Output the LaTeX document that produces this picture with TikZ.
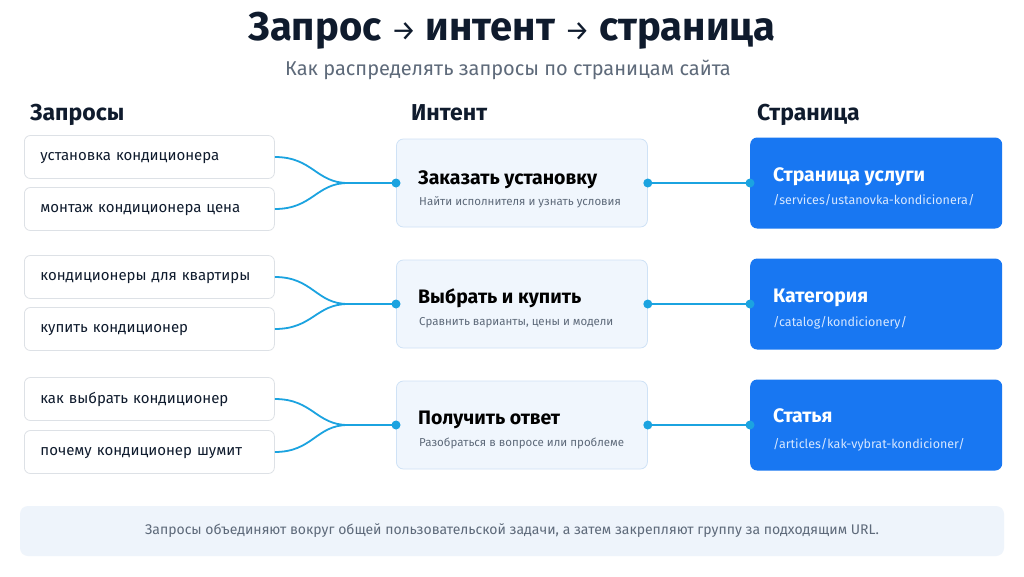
\documentclass[tikz,border=0pt]{standalone}
\usepackage{fontspec}
\setmainfont{Fira Sans}
\usetikzlibrary{positioning}

\definecolor{ink}{HTML}{0F1B2D}
\definecolor{muted}{HTML}{5E6A7A}
\definecolor{qborder}{HTML}{DDE1E6}
\definecolor{ifill}{HTML}{F0F6FD}
\definecolor{iborder}{HTML}{CFE2F6}
\definecolor{pblue}{HTML}{1877F2}
\definecolor{link}{HTML}{1BA3E0}
\definecolor{urltext}{HTML}{D6E7FF}
\definecolor{notefill}{HTML}{EEF4FB}

\begin{document}
\begin{tikzpicture}[x=1pt,y=-1pt,
  query/.style={draw=qborder,fill=white,rounded corners=6pt,line width=0.8pt,
    minimum height=43pt,text width=218pt,inner xsep=16pt,anchor=west,
    align=left,text=ink,font=\fontsize{15}{18}\selectfont,text depth=2pt},
  intent/.style={draw=iborder,fill=ifill,rounded corners=7pt,line width=0.8pt,
    minimum width=251pt,minimum height=88pt,anchor=west},
  page/.style={fill=pblue,rounded corners=7pt,
    minimum width=252pt,minimum height=91pt,anchor=west},
  btitle/.style={anchor=base west,inner sep=0pt,font=\fontsize{19.5}{22}\selectfont\bfseries},
  bsub/.style={anchor=base west,inner sep=0pt,font=\fontsize{11.5}{14}\selectfont,text=muted},
  burl/.style={anchor=base west,inner sep=0pt,font=\fontsize{12.5}{15}\selectfont,text=urltext},
  head/.style={anchor=base west,inner sep=0pt,text=ink,font=\fontsize{23}{26}\selectfont\bfseries},
  wire/.style={draw=link,line width=1.8pt},
  dot/.style={circle,fill=link,inner sep=0pt,minimum size=9pt}]

  \fill[white] (0,0) rectangle (1024,576);
  \useasboundingbox (0,0) rectangle (1024,576);

  % title
  \node[text=ink,font=\fontsize{40}{46}\selectfont\bfseries] (title) at (512,31)
    {Запрос {\mdseries\fontsize{28}{30}\selectfont →} интент {\mdseries\fontsize{28}{30}\selectfont →} страница};
  \node[text=muted,font=\fontsize{20}{24}\selectfont] (subtitle) at (508,70)
    {Как распределять запросы по страницам сайта};

  % column heads
  \node[head] (hq) at (30,120) {Запросы};
  \node[head] (hi) at (411,120) {Интент};
  \node[head] (hp) at (757,120) {Страница};

  % queries
  \node[query] (q1) at (24,157) {установка кондиционера};
  \node[query] (q2) at (24,209) {монтаж кондиционера цена};
  \node[query] (q3) at (24,277) {кондиционеры для квартиры};
  \node[query] (q4) at (24,329) {купить кондиционер};
  \node[query] (q5) at (24,399) {как выбрать кондиционер};
  \node[query] (q6) at (24,452) {почему кондиционер шумит};

  % intents
  \node[intent] (i1) at (396,183) {};
  \node[btitle] (i1t) at (418,184) {Заказать установку};
  \node[bsub] (i1s) at (419,205) {Найти исполнителя и узнать условия};
  \node[intent] (i2) at (396,304) {};
  \node[btitle] (i2t) at (418,303) {Выбрать и купить};
  \node[bsub] (i2s) at (419,325) {Сравнить варианты, цены и модели};
  \node[intent] (i3) at (396,425) {};
  \node[btitle] (i3t) at (418,424) {Получить ответ};
  \node[bsub] (i3s) at (419,446) {Разобраться в вопросе или проблеме};

  % pages
  \node[page] (p1) at (750,183) {};
  \node[btitle,text=white] (p1t) at (773,181) {Страница услуги};
  \node[burl] (p1u) at (773,204) {/services/ustanovka-kondicionera/};
  \node[page] (p2) at (750,304) {};
  \node[btitle,text=white] (p2t) at (773,302) {Категория};
  \node[burl] (p2u) at (773,326) {/catalog/kondicionery/};
  \node[page] (p3) at (750,425) {};
  \node[btitle,text=white] (p3t) at (773,422) {Статья};
  \node[burl] (p3u) at (773,448) {/articles/kak-vybrat-kondicioner/};

  % merge points
  \coordinate (m1) at (348,183);
  \coordinate (m2) at (348,304);
  \coordinate (m3) at (348,425);

  % wires
  \draw[wire] (q1.east) .. controls +(38,0) and +(-32,0) .. (m1);
  \draw[wire] (q2.east) .. controls +(38,0) and +(-32,0) .. (m1);
  \draw[wire] (m1) -- (i1.west);
  \draw[wire] (q3.east) .. controls +(38,0) and +(-32,0) .. (m2);
  \draw[wire] (q4.east) .. controls +(38,0) and +(-32,0) .. (m2);
  \draw[wire] (m2) -- (i2.west);
  \draw[wire] (q5.east) .. controls +(38,0) and +(-32,0) .. (m3);
  \draw[wire] (q6.east) .. controls +(38,0) and +(-32,0) .. (m3);
  \draw[wire] (m3) -- (i3.west);
  \draw[wire] (i1.east) -- (p1.west);
  \draw[wire] (i2.east) -- (p2.west);
  \draw[wire] (i3.east) -- (p3.west);

  % dots
  \node[dot] (d1a) at (i1.west) {};
  \node[dot] (d1b) at (i1.east) {};
  \node[dot] (d1c) at (p1.west) {};
  \node[dot] (d2a) at (i2.west) {};
  \node[dot] (d2b) at (i2.east) {};
  \node[dot] (d2c) at (p2.west) {};
  \node[dot] (d3a) at (i3.west) {};
  \node[dot] (d3b) at (i3.east) {};
  \node[dot] (d3c) at (p3.west) {};

  % note
  \node[fill=notefill,rounded corners=8pt,minimum width=984pt,minimum height=50pt,
    text=muted,font=\fontsize{14}{17}\selectfont] (note) at (512,531)
    {Запросы объединяют вокруг общей пользовательской задачи, а затем закрепляют группу за подходящим URL.};
\end{tikzpicture}
\end{document}
